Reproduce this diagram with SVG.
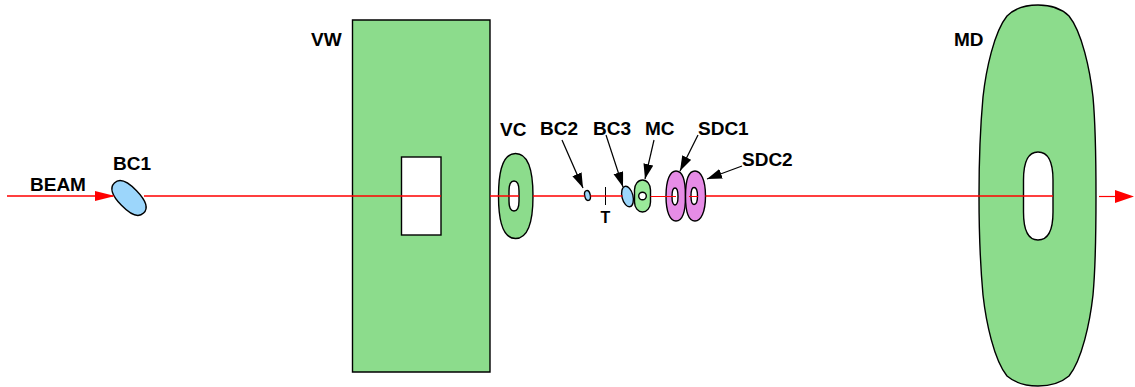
<svg xmlns="http://www.w3.org/2000/svg" width="1135" height="387" viewBox="0 0 1135 387">
<style>
.g{fill:#8cdc8c;stroke:#000;stroke-width:1.4}
.l{fill:#9aea9a;stroke:#000;stroke-width:1.4}
.m{fill:#e68ce6;stroke:#000;stroke-width:1.4}
.b{fill:#9cd6fb;stroke:#000;stroke-width:1.4}
.h{fill:#fff;stroke:#000;stroke-width:1.4}
.t{font-family:"Liberation Sans",Arial,sans-serif;font-weight:bold;font-size:19px;fill:#000}
.a{stroke:#000;stroke-width:1.2;fill:none;marker-end:url(#k)}
.r{stroke:#f00;stroke-width:1.300;fill:none}
.s{stroke:#f00;stroke-width:1;fill:none}
</style>
<defs>
<marker id="k" markerUnits="userSpaceOnUse" markerWidth="17" markerHeight="12" refX="15" refY="5" orient="auto"><path d="M0 0L15 5L0 10Z" fill="#000"/></marker>
</defs>
<g id="VW"><path class="g" d="M352.500 20H490V372H352.500Z"/><rect class="h" x="401.500" y="157" width="39.500" height="78"/><text class="t" x="311" y="46">VW</text></g>
<g id="BC1"><path class="b" transform="translate(129 198) rotate(46)" d="M-21 0C-21 -8 -13 -10.500 0 -10.500C13 -10.500 21 -8 21 0C21 8 13 10.500 0 10.500C-13 10.500 -21 8 -21 0Z"/><text class="t" x="113" y="170">BC1</text></g>
<g id="VC"><path class="g" d="M515.500 153.500C526 153.500 533 166 533 196C533 226 526 238.500 515.500 238.500C505 238.500 498.500 226 498.500 196C498.500 166 505 153.500 515.500 153.500Z"/><path class="h" d="M514 181C517 181 519 185 519 191V201C519 207 517 211 514 211C511 211 509 207 509 201V191C509 185 511 181 514 181Z"/><text class="t" x="500" y="135.500">VC</text></g>
<g id="BC2"><ellipse class="b" cx="587.500" cy="195.500" rx="2.800" ry="5" transform="rotate(-12 587.500 195.500)"/><text class="t" x="540" y="135">BC2</text></g>
<g id="T"><path d="M605.500 187V205" stroke="#000" stroke-width="1"/><text class="t" x="600.500" y="223" style="font-size:16px">T</text></g>
<g id="BC3"><ellipse class="b" cx="627.500" cy="196.500" rx="5.500" ry="10.500" transform="rotate(-14 627.500 196.500)"/><text class="t" x="593" y="135">BC3</text></g>
<g id="MC"><rect class="l" x="634.500" y="180" width="16" height="32" rx="8" ry="10"/><circle class="h" cx="642.500" cy="196" r="3.800"/><text class="t" x="645" y="135">MC</text></g>
<g id="SDC1"><path class="m" d="M676 171C682 171 685.500 180 685.500 196C685.500 212 682 221 676 221C670 221 666 212 666 196C666 180 670 171 676 171Z"/><path class="h" d="M675 188C677 188 678 191 678 196.500C678 202 677 205 675 205C673 205 672 202 672 196.500C672 191 673 188 675 188Z"/><text class="t" x="698" y="135">SDC1</text></g>
<g id="SDC2"><path class="m" d="M695 171C701 171 705.500 180 705.500 196C705.500 212 701 221 695 221C689 221 685.500 212 685.500 196C685.500 180 689 171 695 171Z"/><path class="h" d="M694 187.500C696 187.500 697.500 190 697.500 196C697.500 202 696 204.500 694 204.500C692 204.500 691 202 691 196C691 190 692 187.500 694 187.500Z"/><text class="t" x="742" y="166">SDC2</text></g>
<g id="MD"><path class="g" d="M1038 5C1052 5 1062 9 1069 16C1082 32 1090 70 1093 97C1096 130 1096 165 1096 196C1096 227 1096 262 1093 295C1090 322 1082 360 1069 376C1062 382 1052 386 1038 386C1024 386 1014 382 1007 376C994 360 986 322 983 295C980 262 979 227 979 196C979 165 980 130 983 97C986 70 994 32 1007 16C1014 9 1024 5 1038 5Z"/><path class="h" d="M1038 152C1047 152 1053 160 1053 180V212C1053 232 1047 240 1038 240C1029 240 1023.500 232 1023.500 212V180C1023.500 160 1029 152 1038 152Z"/><text class="t" x="954" y="46">MD</text></g>
<g id="connectors">
<path class="r" d="M7 196H113M144 196H441M490 196H519M533 196H584.500M590.500 196H622.500M705.500 196H1053"/>
<path class="s" d="M650.500 196.500H676M689 196.500H698"/>
<path d="M1099 196.500H1116" stroke="#f00" stroke-width="1.200"/>
<path d="M1115 190L1134 196.500L1115 203Z" fill="#f00"/>
<path d="M95 191L115 196L95 201Z" fill="#f00"/>
<path class="a" d="M562 140L583 188"/>
<path class="a" d="M606 135L623 187"/>
<path class="a" d="M654 140L645 179"/>
<path class="a" d="M698 135L680 171"/>
<path class="a" d="M742 166L707 179"/>
</g>
<text class="t" x="30" y="191">BEAM</text>
</svg>
